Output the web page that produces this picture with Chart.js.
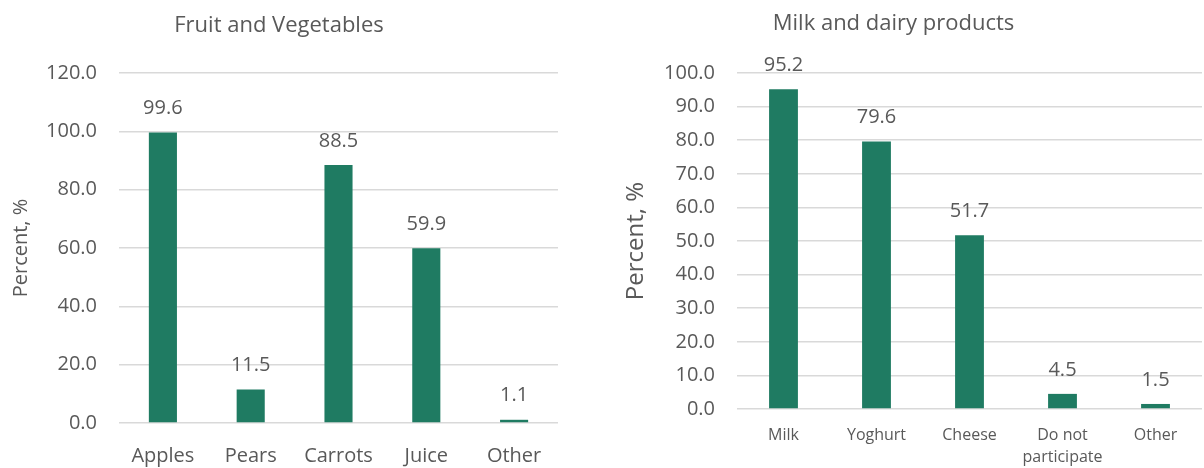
<!DOCTYPE html>
<html>
<head>
<meta charset="utf-8">
<script src="https://cdn.jsdelivr.net/npm/chart.js@4/dist/chart.umd.min.js"></script>
<style>
	html, body { margin: 0; padding: 0; background: #fff; }
	#wrap { position: relative; width: 1204px; height: 468px; overflow: hidden; }
	#box1 { position: absolute; left: 0; top: 0; width: 580px; height: 468px; }
	#box2 { position: absolute; left: 585px; top: 0; width: 619px; height: 468px; }
</style>
</head>
<body>
<div id="wrap">
	<div id="box1"><canvas id="chart1"></canvas></div>
	<div id="box2"><canvas id="chart2"></canvas></div>
</div>
<script>
// Fruit and Vegetables
const fruitLabels = ['Apples', 'Pears', 'Carrots', 'Juice', 'Other'];
const fruitValues = [99.6, 11.5, 88.5, 59.9, 1.1];
const fruitTicks = [0, 20, 40, 60, 80, 100, 120];

// Milk and dairy products
const dairyLabels = ['Milk', 'Yoghurt', 'Cheese', ['Do not', 'participate'], 'Other'];
const dairyValues = [95.2, 79.6, 51.7, 4.5, 1.5];
const dairyTicks = [0, 10, 20, 30, 40, 50, 60, 70, 80, 90, 100];

(() => {
	'use strict'

	const barColor = '#1f7b62';
	const textColor = '#595959';
	const gridColor = '#d9d9d9';
	const family = "'Open Sans', sans-serif";

	// draws the value above each bar
	const valueLabels = {
		id: 'valueLabels',
		afterDatasetsDraw(chart) {
			const ctx = chart.ctx;
			const meta = chart.getDatasetMeta(0);
			const data = chart.data.datasets[0].data;
			ctx.save();
			ctx.font = '20px ' + family;
			ctx.fillStyle = textColor;
			ctx.textAlign = 'center';
			ctx.textBaseline = 'middle';
			meta.data.forEach((bar, i) => {
				ctx.fillText(data[i].toFixed(1), bar.x, bar.y - 24);
			});
			ctx.restore();
		}
	};

	function makeConfig(o) {
		return {
			type: 'bar',
			data: {
				labels: o.labels,
				datasets: [{
					data: o.values,
					backgroundColor: barColor,
					categoryPercentage: 1,
					barPercentage: o.barPct
				}]
			},
			options: {
				responsive: true,
				maintainAspectRatio: false,
				animation: false,
				layout: {
					padding: { left: 0, right: o.padRight, top: 0, bottom: 0 }
				},
				plugins: {
					legend: { display: false },
					tooltip: { enabled: false },
					title: {
						display: true,
						text: o.title,
						color: textColor,
						font: { family: family, size: 22, weight: 'normal' },
						padding: { top: o.titleTop, bottom: 73 - o.titleTop - 26.4 }
					}
				},
				scales: {
					x: {
						grid: { display: false, drawTicks: false },
						border: { display: false },
						ticks: {
							color: textColor,
							padding: o.xPad,
							maxRotation: 0,
							autoSkip: false,
							font: { family: family, size: o.xFont, lineHeight: 1.4 }
						},
						afterFit(scale) { scale.height = o.xHeight; }
					},
					y: {
						min: o.ticks[0],
						max: o.ticks[o.ticks.length - 1],
						afterBuildTicks(scale) {
							scale.ticks = o.ticks.map(v => ({ value: v }));
						},
						grid: { color: gridColor, lineWidth: 1.5, drawTicks: false },
						border: { display: false },
						ticks: {
							color: textColor,
							padding: 22,
							font: { family: family, size: 20 },
							callback: v => Number(v).toFixed(1)
						},
						title: {
							display: true,
							text: 'Percent, %',
							color: textColor,
							font: { family: family, size: o.yTitleFont },
							padding: { top: o.yTitlePad, bottom: 0 }
						},
						afterFit(scale) { scale.width = o.yWidth; }
					}
				}
			},
			plugins: [valueLabels]
		};
	}

	/******************** Chart 1 Start ********************/
	const chart1 = document.getElementById('chart1');
	if (chart1) {
		new Chart(chart1, makeConfig({
			labels: fruitLabels,
			values: fruitValues,
			ticks: fruitTicks,
			title: 'Fruit and Vegetables',
			titleTop: 13,
			barPct: 0.32,
			padRight: 22,
			xPad: 19,
			xFont: 20,
			xHeight: 45,
			yWidth: 119,
			yTitleFont: 20,
			yTitlePad: 9
		}));
	}
	/********************* Chart 1 End *********************/

	/******************** Chart 2 Start ********************/
	const chart2 = document.getElementById('chart2');
	if (chart2) {
		new Chart(chart2, makeConfig({
			labels: dairyLabels,
			values: dairyValues,
			ticks: dairyTicks,
			title: 'Milk and dairy products',
			titleTop: 11,
			barPct: 0.31,
			padRight: 2,
			xPad: 15,
			xFont: 16,
			xHeight: 59,
			yWidth: 152,
			yTitleFont: 24,
			yTitlePad: 37
		}));
	}
	/********************* Chart 2 End *********************/
})()
</script>
</body>
</html>
